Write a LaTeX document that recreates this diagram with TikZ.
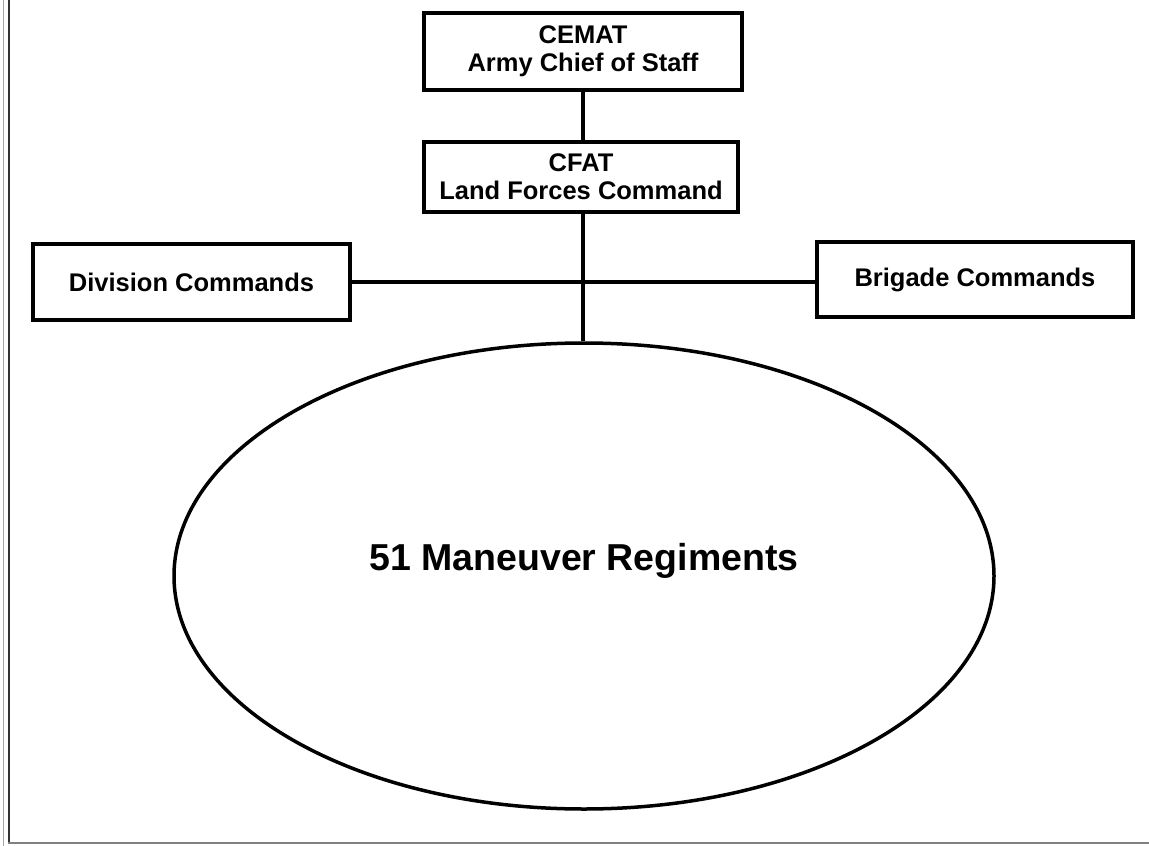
\documentclass[tikz,border=0pt]{standalone}
\usepackage{fontspec}
\setmainfont{Liberation Sans}
\usetikzlibrary{shapes.geometric}

\begin{document}
\begin{tikzpicture}[x=1pt,y=-1pt]

        \useasboundingbox (0,0) rectangle (1149,846);

        % page frame
        \draw[line width=1.5pt, black!35] (3.5,0) -- (3.5,846);
        \draw[line width=2pt, black!80] (9,0) -- (9,843);
        \draw[line width=2pt, black!50] (8,842.5) -- (1149,842.5);

        \begin{scope}[every node/.style={rectangle, draw, line width=3.5pt, align=center,
                      font=\bfseries\fontsize{25.5}{28}\selectfont, inner sep=0pt}]
          \node[minimum width=318, minimum height=77] (cemat) at (583,51.5) {CEMAT\\Army Chief of Staff};
          \node[minimum width=314, minimum height=70] (cfat)  at (581,177) {CFAT\\Land Forces Command};
          \node[minimum width=317, minimum height=76] (div)   at (191.5,282) {Division Commands};
          \node[minimum width=316, minimum height=75] (brig)  at (975,279.5) {Brigade Commands};
        \end{scope}

        \node[ellipse, draw, line width=3.5pt, minimum width=820, minimum height=466,
              inner sep=0pt] (regts) at (584,576) {};
        \node[font=\bfseries\fontsize{37.5}{40}\selectfont, inner sep=0pt]
              (regtstext) at ([yshift=15]regts.center) {51 Maneuver Regiments};

        \coordinate (hub) at (583,282);

        \begin{scope}[every path/.style={draw, line width=3.5pt}]
          \path (cemat.south -| hub) -- (cfat.north -| hub);
          \path (cfat.south -| hub)  -- (regts.north -| hub);
          \path (div.east)  -- (div.east -| brig.west);
        \end{scope}

      \end{tikzpicture}
\end{document}
